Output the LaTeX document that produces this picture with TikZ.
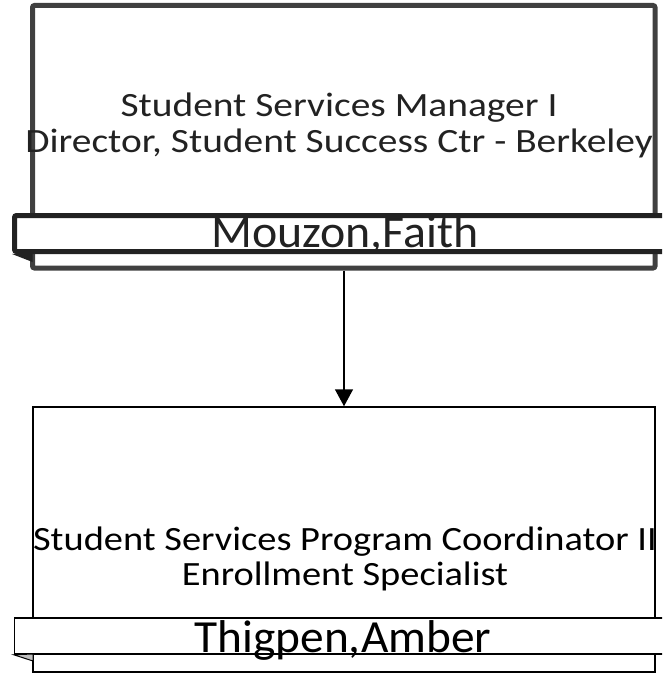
\documentclass[tikz,border=0pt]{standalone}
\usepackage{fontspec}
\setmainfont{Carlito}
\usetikzlibrary{arrows.meta}
\definecolor{topline}{HTML}{404040}
\definecolor{barline}{HTML}{222222}
\tikzset{
  topbox/.style={draw=topline,line width=5pt,rounded corners=2pt,fill=white,inner sep=0pt},
  topbar/.style={draw=barline,line width=5pt,rounded corners=2pt,fill=white,inner sep=0pt},
  lowbox/.style={draw=black,line width=1.5pt,fill=white,inner sep=0pt},
  lowbar/.style={draw=black,line width=1.5pt,fill=white,inner sep=0pt},
  titletext/.style={inner sep=0pt,font=\fontsize{34}{35}\selectfont},
  nametext/.style={anchor=base,inner sep=0pt,font=\fontsize{46}{50}\selectfont},
  link/.style={draw=black,line width=1.5pt,-{Triangle[width=18pt,length=17pt]}}
}
\newcommand{\twolines}[3]{\scalebox{#1}[1]{\begin{tabular}{@{}c@{}}#2\\#3\end{tabular}}}
\begin{document}
\begin{tikzpicture}[x=1pt,y=-1pt]
\useasboundingbox (0,0) rectangle (662,674);
\clip (0,0) rectangle (662,674);
% top position
\node[topbox,minimum width=622.5pt,minimum height=262.5pt] (mgr) at (343.75,136.75) {};
\node[titletext,text=barline] (mgrtitle) at (339,127.5) {\twolines{1.16}{Student Services Manager I}{Director, Student Success Ctr - Berkeley}};
\node[topbar,minimum width=665pt,minimum height=36pt] (mgrbar) at (347,233.5) {};
\fill[barline] (mgrbar.south west) -- (32.5,262) -- (32.5,251.5) -- cycle;
\node[nametext,text=barline] (mgrname) at (345,247) {\scalebox{1.04}[1]{Mouzon,Faith}};
% bottom position
\node[lowbox,minimum width=622pt,minimum height=265pt] (crd) at (344,539.5) {};
\node[titletext] (crdtitle) at (345,561) {\twolines{1.13}{Student Services Program Coordinator II}{Enrollment Specialist}};
\node[lowbar,minimum width=665pt,minimum height=36pt] (crdbar) at (347,636) {};
\filldraw[fill=gray!50,draw=black,line width=1pt] (crdbar.south west) -- (33,661) -- (33,654) -- cycle;
\node[nametext] (crdname) at (343,652) {\scalebox{1.03}[1]{Thigpen,Amber}};
% connector
\draw[link] (mgr.south -| 344,0) -- (crd.north -| 344,0);
\end{tikzpicture}
\end{document}
